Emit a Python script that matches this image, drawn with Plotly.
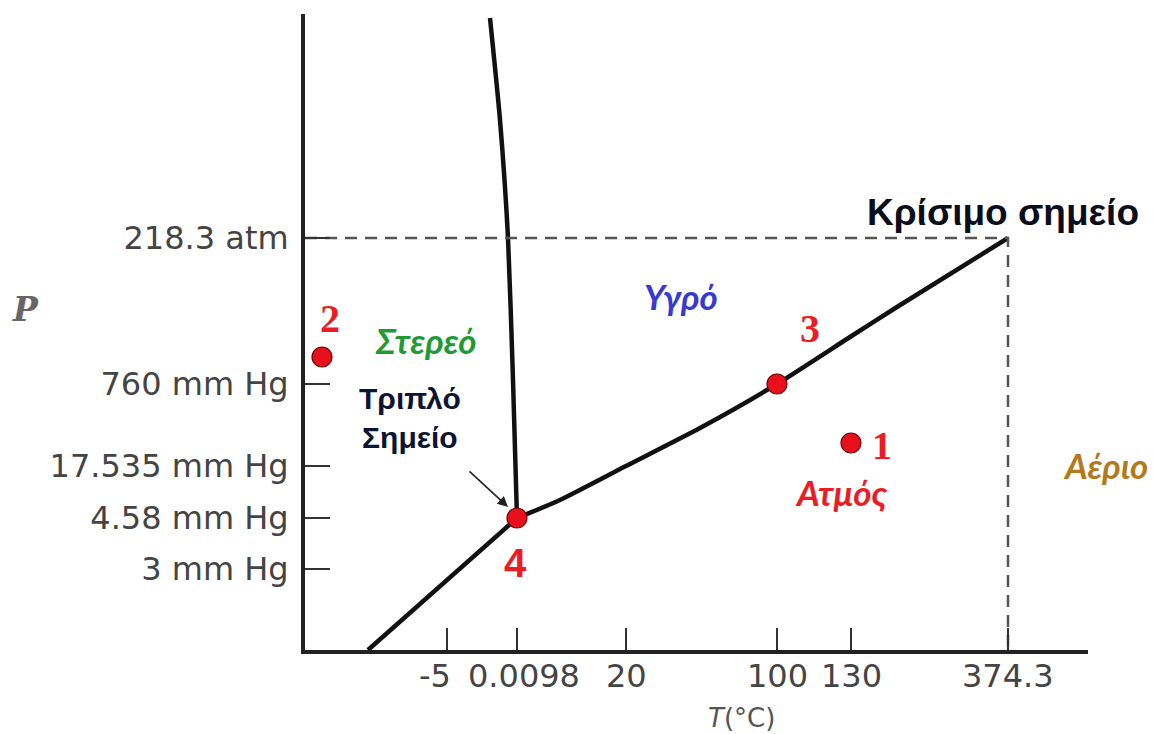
import plotly.graph_objects as go

# Schematic phase diagram of water (not to scale).
# Diagram units: x grows to the right from the P axis, y grows upward from the T axis.

# Axis tick positions (diagram units) and their labels
t_tick_pos = [142, 212, 321, 472, 546, 703]
t_tick_text = ["-5", "0.0098", "20", "100", "130", "374.3"]
p_tick_pos = [412, 266, 184, 132, 81]
p_tick_text = ["218.3 atm", "760 mm Hg", "17.535 mm Hg", "4.58 mm Hg", "3 mm Hg"]

# Phase boundaries
fusion_x = [185, 195, 203, 208, 212]
fusion_y = [632, 530, 412, 270, 132]
sublimation_x = [63, 212]
sublimation_y = [0, 132]
vapor_x = [212, 255, 321, 395, 472, 545, 592, 703]
vapor_y = [132, 150, 184, 222, 266, 313, 343, 412]

# Critical point guide lines
crit_x = 703
crit_y = 412

# Numbered state points
state_x = [546, 17, 472, 212]
state_y = [207, 293, 266, 132]
state_labels = ["1", "2", "3", "4"]
label_x = [577, 25, 505, 210]
label_y = [205, 332, 322, 87]

RED = "#ec1c24"
CURVE = "#111111"

fig = go.Figure()

for xs, ys in [(fusion_x, fusion_y), (sublimation_x, sublimation_y), (vapor_x, vapor_y)]:
    fig.add_trace(go.Scatter(x=xs, y=ys, mode="lines",
                             line=dict(color=CURVE, width=4.5, shape="spline", smoothing=0.6),
                             hoverinfo="skip", showlegend=False))

# Dashed lines through the critical point
fig.add_trace(go.Scatter(x=[0, crit_x, crit_x], y=[crit_y, crit_y, 0], mode="lines",
                         line=dict(color="#555555", width=2.5, dash="12px,8px"),
                         hoverinfo="skip", showlegend=False))

fig.add_trace(go.Scatter(x=state_x, y=state_y, mode="markers",
                         marker=dict(size=20, color="#e8101c",
                                     line=dict(color="#6a0000", width=1.2)),
                         hoverinfo="skip", showlegend=False))

annotations = []

# Temperature tick labels, nudged apart where the two leftmost crowd each other
t_label_nudge = [-12, 7, 0, 0, 0, 0]
for pos, txt, dx in zip(t_tick_pos, t_tick_text, t_label_nudge):
    annotations.append(dict(x=pos, y=0, xref="x", yref="paper", text=txt,
                            xanchor="center", yanchor="top", xshift=dx, yshift=-5,
                            showarrow=False,
                            font=dict(family="DejaVu Sans", size=32, color="#444444")))

for i, lab in enumerate(state_labels):
    fam = "Liberation Sans" if lab == "4" else "Liberation Serif"
    annotations.append(dict(x=label_x[i], y=label_y[i], xref="x", yref="y", text=f"<b>{lab}</b>",
                            showarrow=False, font=dict(family=fam, size=40, color=RED)))

phase_labels = [
    ("Στερεό", 121, 310, "#1f9a35"),
    ("Υγρό", 376, 354, "#3838d2"),
    ("Ατμός", 536, 158, RED),
]
for txt, x, y, col in phase_labels:
    annotations.append(dict(x=x, y=y, xref="x", yref="y", text=f"<b><i>{txt}</i></b>",
                            showarrow=False, font=dict(family="Lato", size=35, color=col)))
# Gas region label sits right of the plotting area
annotations.append(dict(x=1.022, y=0.291, xref="paper", yref="paper", text="<b><i>Αέριο</i></b>",
                        xanchor="center", yanchor="middle",
                        showarrow=False, font=dict(family="Lato", size=35, color="#b27a1c")))

annotations.append(dict(x=698, y=438, xref="x", yref="y", text="<b>Κρίσιμο σημείο</b>",
                        showarrow=False, font=dict(family="Liberation Sans", size=37, color="#0a0d1c")))
annotations.append(dict(x=105, y=232, xref="x", yref="y", text="<b>Τριπλό<br>Σημείο</b>",
                        showarrow=False, align="center",
                        font=dict(family="Liberation Sans", size=30, color="#0d1433")))
# Arrow pointing at the triple point
annotations.append(dict(x=203, y=143, xref="x", yref="y", ax=163, ay=180, axref="x", ayref="y",
                        text="", showarrow=True, arrowhead=2, arrowsize=1.3, arrowwidth=1.6,
                        arrowcolor="#222222"))
# Axis names
annotations.append(dict(x=-0.357, y=0.536, xref="paper", yref="paper", text="<b><i>P</i></b>",
                        xanchor="center", yanchor="middle",
                        showarrow=False, font=dict(family="DejaVu Serif", size=33, color="#666666")))
annotations.append(dict(x=0.558, y=-0.107, xref="paper", yref="paper", text="<i>T</i>(°C)",
                        xanchor="center", yanchor="middle",
                        showarrow=False, font=dict(family="DejaVu Sans", size=26, color="#555555")))

fig.update_layout(
    width=1153, height=734, autosize=False,
    margin=dict(l=305, r=65, t=14, b=84),
    plot_bgcolor="white", paper_bgcolor="white",
    annotations=annotations,
    xaxis=dict(range=[0, 783], showgrid=False, zeroline=False, showline=True,
               linecolor="#222222", linewidth=4, ticks="inside", ticklen=22, tickwidth=2,
               tickcolor="#333333", tickvals=t_tick_pos, showticklabels=False,
               automargin=False),
    yaxis=dict(range=[0, 636], showgrid=False, zeroline=False, showline=True,
               linecolor="#222222", linewidth=4, ticks="inside", ticklen=25, tickwidth=2,
               tickcolor="#333333", tickvals=p_tick_pos, ticktext=p_tick_text,
               automargin=False, ticklabelstandoff=6,
               tickfont=dict(family="DejaVu Sans", size=32, color="#444444")),
)

fig.write_html("out.html")
